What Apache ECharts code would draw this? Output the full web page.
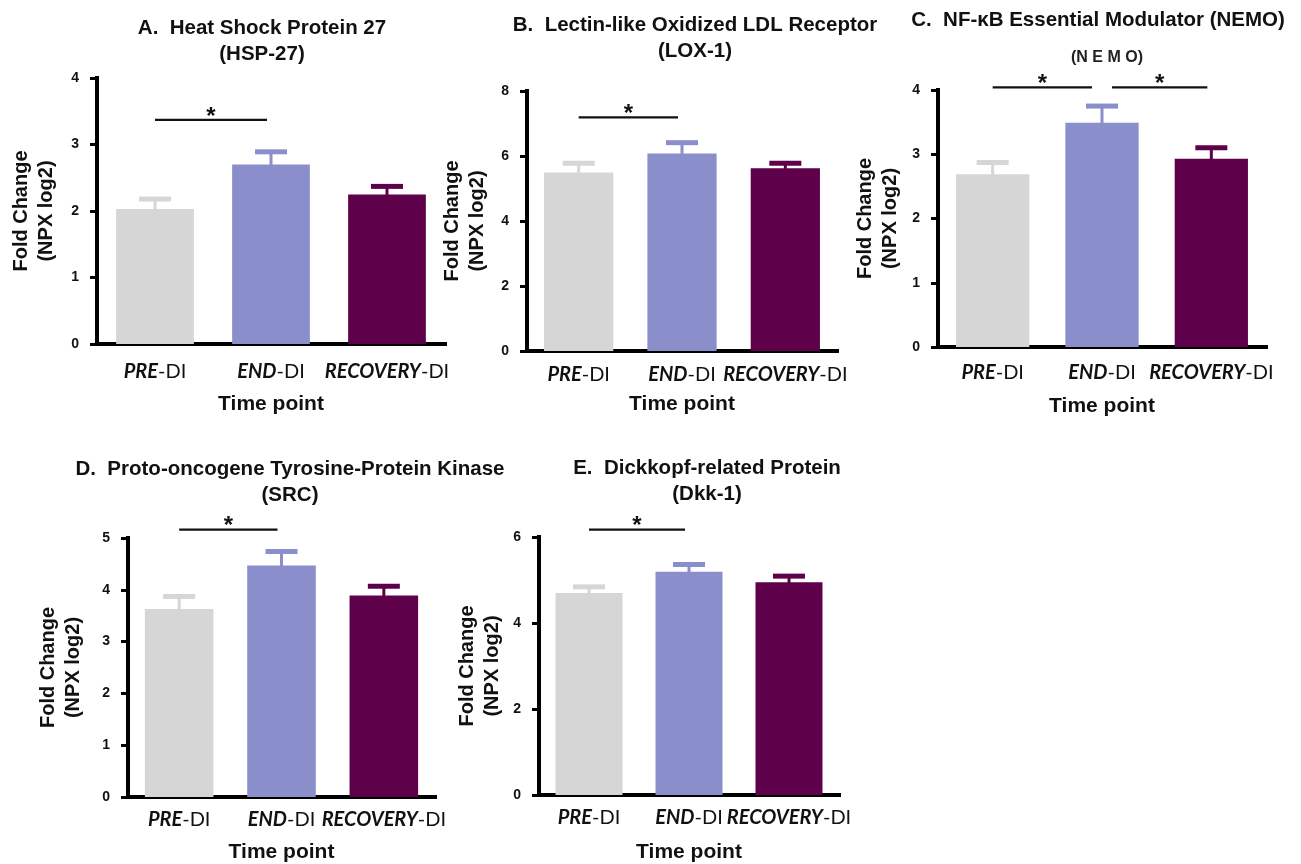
<!DOCTYPE html>
<html>
<head>
<meta charset="utf-8">
<script src="https://cdn.jsdelivr.net/npm/echarts@6/dist/echarts.min.js"></script>
<style>
html,body{margin:0;padding:0;background:#fff;}
#main{width:1301px;height:864px;}
</style>
</head>
<body>
<div id="main"></div>
<script>
// ---- data ----
const categories = ['PRE-DI', 'END-DI', 'RECOVERY-DI'];
const panelTitles = [
  'A.  Heat Shock Protein 27\n(HSP-27)',
  'B.  Lectin-like Oxidized LDL Receptor\n(LOX-1)',
  'C.  NF-\u03baB Essential Modulator (NEMO)',
  'D.  Proto-oncogene Tyrosine-Protein Kinase\n(SRC)',
  'E.  Dickkopf-related Protein\n(Dkk-1)'
];
const subTitleC = '(N E M O)';
const yAxisTitle = 'Fold Change\n(NPX log2)';
const xAxisTitle = 'Time point';

const meansA = [2.03, 2.70, 2.25];
const errA   = [0.15, 0.19, 0.12];
const meansB = [5.49, 6.08, 5.62];
const errB   = [0.29, 0.33, 0.16];
const meansC = [2.69, 3.49, 2.93];
const errC   = [0.18, 0.26, 0.17];
const meansD = [3.63, 4.47, 3.89];
const errD   = [0.24, 0.27, 0.18];
const meansE = [4.70, 5.19, 4.95];
const errE   = [0.14, 0.17, 0.14];

const yMax      = [4, 8, 4, 5, 6];
const yInterval = [1, 2, 1, 1, 2];

// significance brackets: [fromCategory, toCategory, height]
const sigA = [[0, 1, 3.37]];
const sigB = [[0, 1, 7.19]];
const sigC = [[0, 1, 4.04], [1, 2, 4.04]];
const sigD = [[0, 1, 5.16]];
const sigE = [[0, 1, 6.17]];

// ---- styles / layout ----
const barColors = ['#d6d6d6', '#8a8ecb', '#5e004a'];
const grids = [
  {left: 97,  top: 78,  width: 348, height: 266},
  {left: 527, top: 91,  width: 310, height: 260},
  {left: 938, top: 90,  width: 328, height: 257},
  {left: 128, top: 538, width: 307, height: 259},
  {left: 539, top: 537, width: 300, height: 258}
];
const titlePos = [
  {x: 257, y: 10}, {x: 690, y: 7}, {x: 1093, y: 2}, {x: 285, y: 451}, {x: 702, y: 450}
];
const yNameGap = [38, 37, 35, 42, 34];
const xLabelMargin = [16, 12, 14, 11, 11];
const xNameGap = [50, 43, 49, 45, 47];

const allMeans = [meansA, meansB, meansC, meansD, meansE];
const allErr = [errA, errB, errC, errD, errE];
const allSig = [sigA, sigB, sigC, sigD, sigE];

const chart = echarts.init(document.getElementById('main'), null, {renderer: 'canvas'});

const xAxes = [], yAxes = [], series = [], titles = [];
const FONT = '"Liberation Sans", Arial, sans-serif';
const LFONT = 'Lato, "Open Sans", sans-serif';

grids.forEach((g, i) => {
  xAxes.push({
    type: 'category', gridIndex: i, data: categories,
    name: xAxisTitle, nameLocation: 'middle', nameGap: xNameGap[i],
    nameTextStyle: {fontFamily: FONT, fontWeight: 'bold', fontSize: 21, color: '#111'},
    axisLine: {lineStyle: {color: '#000', width: 4, cap: 'square'}},
    axisTick: {alignWithLabel: true, length: 8, lineStyle: {color: '#000', width: 3}},
    axisLabel: {
      interval: 0,
      hideOverlap: false,
      margin: xLabelMargin[i],
      formatter: v => { const k = v.indexOf('-'); return '{i|' + v.slice(0, k) + '}{r|' + v.slice(k) + '}'; },
      rich: {
        i: {fontFamily: LFONT, fontStyle: 'italic', fontWeight: 'bold', fontSize: 20, color: '#111', lineHeight: 24},
        r: {fontFamily: LFONT, fontSize: 20, color: '#111', lineHeight: 24}
      }
    },
    splitLine: {show: false}
  });
  yAxes.push({
    type: 'value', gridIndex: i, min: 0, max: yMax[i], interval: yInterval[i],
    name: yAxisTitle, nameLocation: 'middle', nameGap: yNameGap[i], nameRotate: 90,
    nameTextStyle: {fontFamily: FONT, fontWeight: 'bold', fontSize: 20, lineHeight: 25, color: '#111'},
    axisLine: {show: true, lineStyle: {color: '#000', width: 4, cap: 'square'}},
    axisTick: {show: true, length: 7, lineStyle: {color: '#000', width: 3}},
    axisLabel: {margin: 18, fontFamily: FONT, fontWeight: 'bold', fontSize: 14, color: '#111'},
    splitLine: {show: false}
  });
  const means = allMeans[i], errs = allErr[i];
  series.push({
    type: 'bar', xAxisIndex: i, yAxisIndex: i, barWidth: '67%',
    data: means.map((m, k) => ({value: m, itemStyle: {color: barColors[k]}})),
    silent: true, z: 2
  });
  series.push({
    type: 'custom', xAxisIndex: i, yAxisIndex: i, z: 3, silent: true,
    encode: {x: 0, y: 1},
    data: means.map((m, k) => [k, m, errs[k]]),
    renderItem: (params, api) => {
      const k = api.value(0), m = api.value(1), e = api.value(2);
      const base = api.coord([k, m]);
      const top = api.coord([k, m + e]);
      const c = barColors[k];
      return {type: 'group', children: [
        {type: 'line', shape: {x1: top[0], y1: base[1] + 3, x2: top[0], y2: top[1]}, style: {stroke: c, lineWidth: 3}},
        {type: 'line', shape: {x1: top[0] - 16, y1: top[1], x2: top[0] + 16, y2: top[1]}, style: {stroke: c, lineWidth: 5}}
      ]};
    }
  });
  const sig = allSig[i];
  series.push({
    type: 'custom', xAxisIndex: i, yAxisIndex: i, z: 4, silent: true, clip: false,
    encode: {x: [0, 1], y: 2},
    data: sig,
    renderItem: (params, api) => {
      const a = api.value(0), b = api.value(1), h = api.value(2);
      const p1 = api.coord([a, h]), p2 = api.coord([b, h]);
      const sharedStart = sig.some(s => s[1] === a);
      const sharedEnd = sig.some(s => s[0] === b);
      const x1 = p1[0] + (sharedStart ? 10 : 0);
      const x2 = p2[0] - (sharedEnd ? 10 : 4);
      return {type: 'group', children: [
        {type: 'line', shape: {x1: x1, y1: p1[1], x2: x2, y2: p2[1]}, style: {stroke: '#111', lineWidth: 2.2}},
        {type: 'text', x: (x1 + x2) / 2, y: p1[1] - 3,
          style: {text: '*', fontSize: 24, fontWeight: 'bold', fontFamily: FONT, fill: '#111', align: 'center', verticalAlign: 'middle'}}
      ]};
    }
  });
  titles.push({
    text: panelTitles[i], left: titlePos[i].x, top: titlePos[i].y, textAlign: 'center',
    textStyle: {fontFamily: FONT, fontWeight: 'bold', fontSize: 20.5, lineHeight: 26, color: '#111'}
  });
});
titles.push({
  text: subTitleC, left: 1102, top: 44, textAlign: 'center',
  textStyle: {fontFamily: FONT, fontWeight: 'bold', fontSize: 16, lineHeight: 18, color: '#222'}
});

chart.setOption({
  animation: false,
  backgroundColor: '#fff',
  title: titles,
  grid: grids,
  xAxis: xAxes,
  yAxis: yAxes,
  series: series
});
</script>
</body>
</html>
